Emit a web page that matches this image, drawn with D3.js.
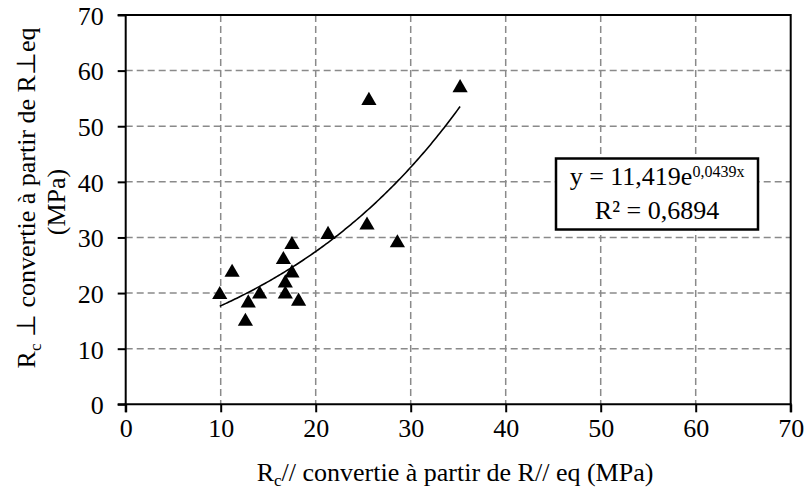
<!DOCTYPE html>
<html lang="fr">
<head>
<meta charset="UTF-8">
<title>Rc perpendiculaire vs Rc parallèle</title>
<style>
  body { margin: 0; background: #fff; }
  svg text { font-family: "Liberation Serif", "Times New Roman", serif; fill: #000; }
</style>
</head>
<body>
<svg id="chart" width="806" height="490"></svg>
<script src="https://cdnjs.cloudflare.com/ajax/libs/d3/7.8.5/d3.min.js"></script>
<script>
// points (MPa)
const xValues = [9.9, 11.2, 12.6, 12.9, 14.1, 16.6, 16.8, 16.8, 17.5, 17.5, 18.2, 21.3, 25.4, 25.6, 28.6, 35.2];
const yValues = [20.1, 24.1, 15.3, 18.6, 20.2, 26.4, 22.2, 20.2, 29.1, 24.0, 18.9, 30.9, 32.6, 55.0, 29.4, 57.3];
const tickValues = [0, 10, 20, 30, 40, 50, 60, 70];
// exponential trendline as printed on the chart
const trendA = 11.419;
const trendB = 0.0439;
const equationMain = "y = 11,419e";
const equationExp = "0,0439x";
const equationR2 = "R² = 0,6894";

const serif = '"Liberation Serif", "Times New Roman", serif';
const svg = d3.select("#chart");
const pLeft = 125.7, pRight = 790.7, pTop = 15, pBottom = 404.3;

const x = d3.scaleLinear().domain([0, 70]).range([pLeft, pRight]);
const y = d3.scaleLinear().domain([0, 70]).range([pBottom, pTop]);

// grid
const grid = svg.append("g")
    .attr("stroke", "#8a8a8a")
    .attr("stroke-width", 1.5)
    .attr("stroke-dasharray", "7,4");
grid.selectAll(".gy").data(tickValues.slice(1, -1)).enter().append("line")
    .attr("x1", pLeft).attr("x2", pRight)
    .attr("y1", d => y(d)).attr("y2", d => y(d));
grid.selectAll(".gx").data(tickValues.slice(1, -1)).enter().append("line")
    .attr("y1", pTop).attr("y2", pBottom)
    .attr("x1", d => x(d)).attr("x2", d => x(d));

// frame top/right
svg.append("path")
    .attr("d", `M${pLeft},${pTop}H${pRight}V${pBottom}`)
    .attr("fill", "none").attr("stroke", "#000").attr("stroke-width", 2);

// axes
const xAxis = svg.append("g")
    .attr("transform", `translate(0,${pBottom})`)
    .call(d3.axisBottom(x).tickValues(tickValues).tickSize(8).tickPadding(6));
const yAxis = svg.append("g")
    .attr("transform", `translate(${pLeft},0)`)
    .call(d3.axisLeft(y).tickValues(tickValues).tickSize(8).tickPadding(14));
[xAxis, yAxis].forEach(g => {
  g.attr("font-family", serif).attr("font-size", 26);
  g.select(".domain").attr("stroke", "#000").attr("stroke-width", 2);
  g.selectAll(".tick line").attr("stroke", "#000").attr("stroke-width", 2);
  g.selectAll(".tick text").style("font-family", serif)
    .style("font-size", "26px").attr("fill", "#000");
});
xAxis.select(".domain").attr("d", `M${pLeft},8V0H${pRight}V8`);
yAxis.select(".domain").attr("d", `M-8,${pTop}H0V${pBottom}H-8`);
xAxis.selectAll(".tick text").attr("dy", "0.71em");
yAxis.selectAll(".tick text").attr("dy", "0.36em");

// trendline
const xs = d3.range(d3.min(xValues), d3.max(xValues) + 0.01, 0.2);
xs.push(d3.max(xValues));
const line = d3.line().x(d => x(d)).y(d => y(trendA * Math.exp(trendB * d)));
svg.append("path")
    .datum(xs)
    .attr("d", line)
    .attr("fill", "none")
    .attr("stroke", "#000")
    .attr("stroke-width", 1.6);

// triangle marker centred on its bounding box
const tri = {
  draw(ctx, size) {
    const w = Math.sqrt(size * 4 / Math.sqrt(3));
    const h = w * Math.sqrt(3) / 2;
    ctx.moveTo(0, -h / 2);
    ctx.lineTo(w / 2, h / 2);
    ctx.lineTo(-w / 2, h / 2);
    ctx.closePath();
  }
};
svg.append("g").selectAll("path")
    .data(xValues.map((v, i) => [v, yValues[i]]))
    .enter().append("path")
    .attr("d", d3.symbol().type(tri).size(100))
    .attr("transform", d => `translate(${x(d[0])},${y(d[1])})`)
    .attr("fill", "#000");

// equation box
const box = svg.append("g");
box.append("rect")
    .attr("x", 556).attr("y", 158.5).attr("width", 202).attr("height", 71)
    .attr("fill", "#fff").attr("stroke", "#000").attr("stroke-width", 2.5);
const eq = box.append("text").attr("x", 657).attr("y", 185)
    .attr("text-anchor", "middle").style("font-size", "26px");
eq.append("tspan").text(equationMain);
eq.append("tspan").attr("dy", -8).style("font-size", "16px").text(equationExp);
box.append("text").attr("x", 657).attr("y", 219)
    .attr("text-anchor", "middle").style("font-size", "26px").text(equationR2);

// x title
const xt = svg.append("text").attr("x", 455).attr("y", 481)
    .attr("text-anchor", "middle").style("font-size", "26px");
xt.append("tspan").text("R");
xt.append("tspan").attr("dy", 5).style("font-size", "17px").text("c");
xt.append("tspan").attr("dy", -5).text("// convertie à partir de R// eq (MPa)");

// y title (two lines)
const yt1 = svg.append("text")
    .attr("transform", "translate(35,198) rotate(-90)")
    .attr("text-anchor", "middle").style("font-size", "26px");
yt1.append("tspan").text("R");
yt1.append("tspan").attr("dy", 6).style("font-size", "17px").text("c");
yt1.append("tspan").attr("dy", -6).text(" ⊥ convertie à partir de R⊥eq");
svg.append("text")
    .attr("transform", "translate(65,202) rotate(-90)")
    .attr("text-anchor", "middle").style("font-size", "26px")
    .text("(MPa)");
</script>
</body>
</html>
